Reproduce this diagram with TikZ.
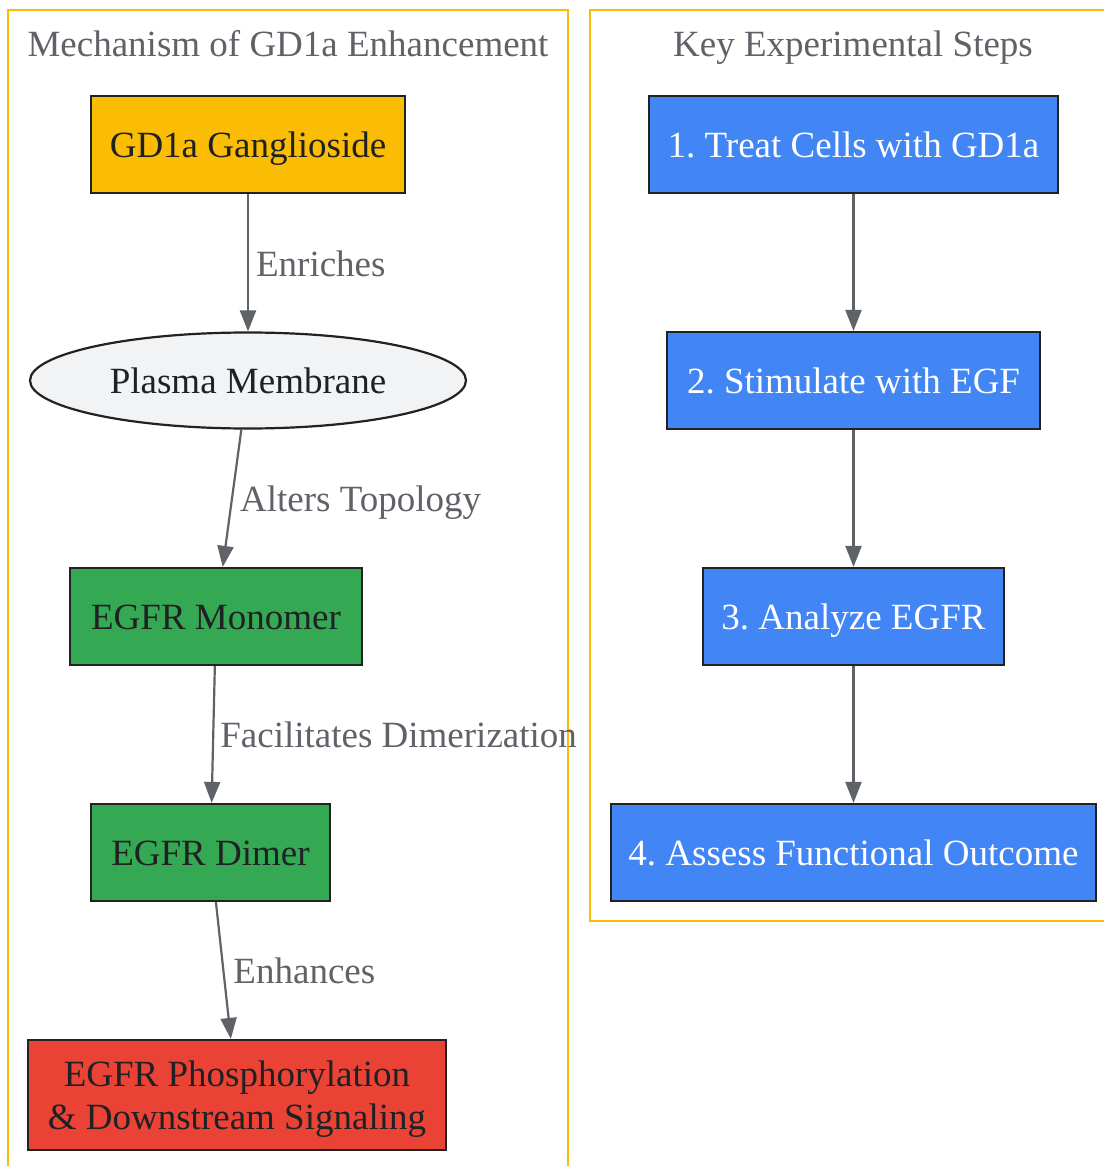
\documentclass[tikz,border=0pt]{standalone}
\usepackage{fontspec}
\setmainfont{Liberation Serif}
\usetikzlibrary{arrows.meta,shapes.geometric}
\frenchspacing
\definecolor{cborder}{HTML}{FBBC04}
\definecolor{yel}{HTML}{FBBC04}
\definecolor{memb}{HTML}{F1F3F4}
\definecolor{grn}{HTML}{34A853}
\definecolor{redd}{HTML}{EA4335}
\definecolor{blu}{HTML}{4285F4}
\definecolor{edgec}{HTML}{5F6368}
\definecolor{txtc}{HTML}{202124}
\definecolor{bordc}{HTML}{222222}
\tikzset{
  every node/.style={font=\fontsize{37}{43}\selectfont\frenchspacing},
  cluster/.style={draw=cborder, line width=2pt},
  ctitle/.style={text=edgec, inner sep=0pt, anchor=base},
  box/.style={draw=bordc, line width=2.2pt, inner sep=0pt, text=txtc, align=center},
  onel/.style={text height=26pt, text depth=0pt},
  bbox/.style={box, onel, fill=blu, text=white},
  conn/.style={draw=edgec, line width=2.2pt, -{Triangle[length=21pt,width=16pt]}},
  lbl/.style={text=edgec, anchor=west, inner sep=0pt, xshift=7pt, yshift=-11pt, text height=7pt, text depth=2.2pt}
}
\begin{document}
\begin{tikzpicture}[x=1pt,y=-1pt]
\useasboundingbox (0,0) rectangle (1104,1166);
\clip (0,0) rectangle (1104,1166);
\fill[white] (0,0) rectangle (1104,1166);
% clusters
\draw[cluster] (8,10) rectangle (568,1200);
\draw[cluster] (590,10) rectangle (1130,921);
\node[ctitle] (t1) at (288,57) {Mechanism of GD1a Enhancement};
\node[ctitle] (t2) at (853,57) {Key Experimental Steps};
% left nodes
\node[box, onel, fill=yel, minimum width=314pt, minimum height=97pt] (gd) at (248,144.5) {GD1a Ganglioside};
\node[box, onel, ellipse, fill=memb, minimum width=436pt, minimum height=96pt] (pm) at (248,380.5) {Plasma Membrane};
\node[box, onel, fill=grn, minimum width=292pt, minimum height=97pt] (mono) at (216,616.5) {EGFR Monomer};
\node[box, onel, fill=grn, minimum width=239pt, minimum height=97pt] (dim) at (210.5,852.5) {EGFR Dimer};
\node[box, text depth=0pt, fill=redd, minimum width=418pt, minimum height=110pt] (phos) at (237,1095) {EGFR Phosphorylation\\ \& Downstream Signaling};
% right nodes
\node[bbox, minimum width=409pt, minimum height=97pt] (s1) at (853.5,144.5) {1. Treat Cells with GD1a};
\node[bbox, minimum width=373pt, minimum height=97pt] (s2) at (853.5,380.5) {2. Stimulate with EGF};
\node[bbox, minimum width=301pt, minimum height=97pt] (s3) at (853.5,616.5) {3. Analyze EGFR};
\node[bbox, minimum width=485pt, minimum height=97pt] (s4) at (853.5,852.5) {4. Assess Functional Outcome};
% edges
\draw[conn] (gd) -- node[lbl, midway] {Enriches} (pm);
\draw[conn] (pm) -- node[lbl, midway] {Alters Topology} (mono);
\draw[conn] (mono) -- node[lbl, midway, xshift=-1pt] {Facilitates Dimerization} (dim);
\draw[conn] (dim) -- node[lbl, midway, xshift=2pt] {Enhances} (phos);
\draw[conn] (s1) -- (s2);
\draw[conn] (s2) -- (s3);
\draw[conn] (s3) -- (s4);
\end{tikzpicture}
\end{document}
